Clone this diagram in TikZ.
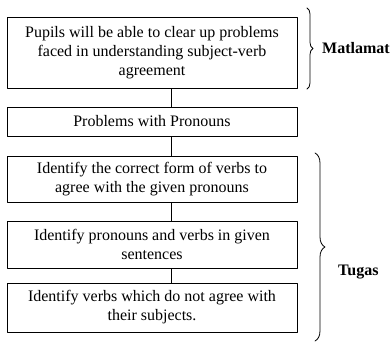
\documentclass[tikz,border=0pt]{standalone}
\usepackage{fontspec}
\setmainfont{Liberation Serif}
\usetikzlibrary{decorations.pathreplacing}
\tikzset{
  box/.style={draw, line width=.8pt, minimum width=290pt, align=center, inner sep=0pt,
    font=\fontsize{16}{19}\selectfont},
  tag/.style={anchor=west, inner sep=0pt, font=\fontsize{16}{19}\selectfont\bfseries},
  brc/.style={decorate, decoration={brace, amplitude=#1}, line width=.8pt},
}
\begin{document}
\begin{tikzpicture}[x=1pt, y=1pt, line join=round, line cap=round]
            \def\xm{152} \def\xc{171}
            \useasboundingbox (0,0) rectangle (392,-343);
            \coordinate (spine) at (\xc,0);
            \node[box, minimum height=71pt] (goal) at (\xm,-52.5)
                {Pupils will be able to clear up problems\\ faced in understanding subject-verb\\ agreement};
            \node[box, minimum height=29pt] (prob) at (\xm,-121.5) {Problems with Pronouns};
            \node[box, minimum height=46pt] (taskA) at (\xm,-179)
                {Identify the correct form of verbs to\\ agree with the given pronouns};
            \node[box, minimum height=47pt] (taskB) at (\xm,-244.5)
                {Identify pronouns and verbs in given\\ sentences};
            \node[box, minimum height=49pt] (taskC) at (\xm,-307.5)
                {Identify verbs which do not agree with\\ their subjects.};
            \draw[line width=.8pt] (goal.south -| spine) -- (prob.north -| spine);
            \draw[line width=.8pt] (prob.south -| spine) -- (taskA.north -| spine);
            \draw[line width=.8pt] (taskA.south -| spine) -- (taskB.north -| spine);
            \draw[line width=.8pt] (taskB.south -| spine) -- (taskC.north -| spine);
            % braces and their labels
            \draw[brc=6pt] (307,-8) -- (307,-89);
            \node[tag] (aim) at (322,-48.5) {Matlamat};
            \draw[brc=10pt] (315,-153) -- (315,-341);
            \node[tag] (work) at (338,-272) {Tugas};
        \end{tikzpicture}
\end{document}
